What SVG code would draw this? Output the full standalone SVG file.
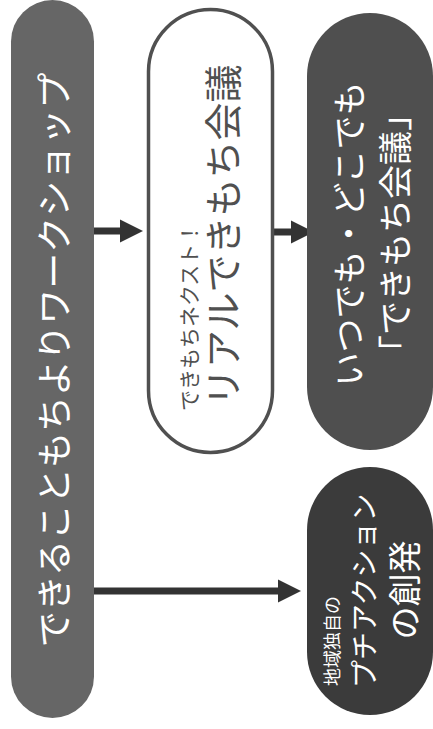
<svg xmlns="http://www.w3.org/2000/svg" width="433" height="729" viewBox="0 0 433 729">
<defs>
<style>
text{font-family:"Noto Sans CJK JP","Noto Sans CJK SC",sans-serif;dominant-baseline:central;}
.w{fill:#ffffff;}
.g{fill:#505050;}
.conn{stroke:#333333;stroke-width:7;fill:none;}
</style>
<marker id="head" markerUnits="userSpaceOnUse" markerWidth="23" markerHeight="23" refX="2" refY="11.5" orient="auto" overflow="visible">
<path d="M0,0 L23,11.5 L0,23 z" fill="#333333"/>
</marker>
</defs>
<rect width="433" height="729" fill="#ffffff"/>
<g id="connectors">
<path class="conn" d="M88,231 H122" marker-end="url(#head)"/>
<path class="conn" d="M262,232 H293" marker-end="url(#head)"/>
<path class="conn" d="M88,591 H280" marker-end="url(#head)"/>
</g>
<g id="node-workshop">
<rect x="11" y="0" width="83" height="718" rx="41.5" fill="#666666"/>
<text class="w" font-size="36" text-anchor="middle" transform="translate(52,360) rotate(-90)">できることもちよりワークショップ</text>
</g>
<g id="node-real">
<rect x="148.5" y="9.5" width="124" height="443" rx="62" fill="#ffffff" stroke="#505050" stroke-width="3.5"/>
<text class="g" font-size="21" text-anchor="start" transform="translate(188,411) rotate(-90)">できもちネクスト！</text>
<text class="g" font-size="38" text-anchor="start" transform="translate(220,406) rotate(-90)">リアルできもち会議</text>
</g>
<g id="node-anytime">
<rect x="307" y="13" width="126" height="437" rx="63" fill="#4f4f4f"/>
<text class="w" font-size="34" text-anchor="middle" transform="translate(347,234) rotate(-90)">いつでも・どこでも</text>
<text class="w" font-size="34" text-anchor="middle" transform="translate(393,233) rotate(-90)">「できもち会議」</text>
</g>
<g id="node-petit">
<rect x="307" y="467" width="126" height="248" rx="63" fill="#3b3b3b"/>
<text class="w" font-size="18" text-anchor="start" transform="translate(331,686) rotate(-90)">地域独自の</text>
<text class="w" font-size="28" text-anchor="start" transform="translate(363,688) rotate(-90)">プチアクション</text>
<text class="w" font-size="33" text-anchor="middle" transform="translate(403,590) rotate(-90)">の創発</text>
</g>
</svg>
